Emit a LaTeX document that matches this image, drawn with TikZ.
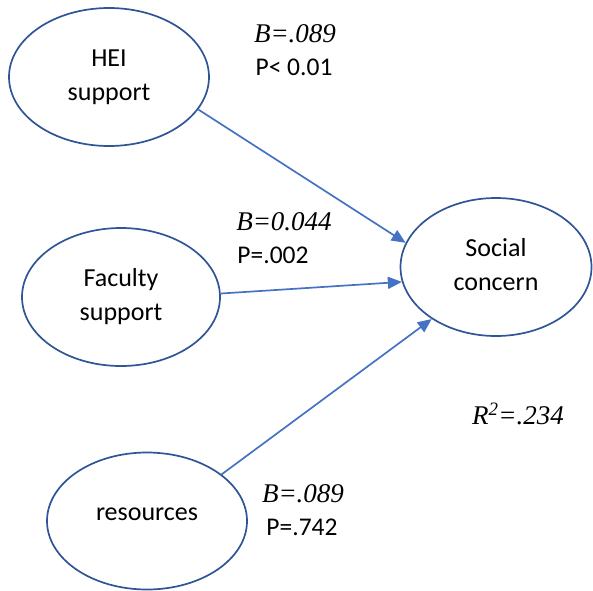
\documentclass[tikz,border=0pt]{standalone}
\usepackage{fontspec}
\setmainfont{Carlito}
\newfontfamily\timesit{Liberation Serif}
\usetikzlibrary{shapes.geometric,arrows.meta}
\definecolor{ellblue}{HTML}{2F5597}
\definecolor{arrblue}{HTML}{4472C4}
\begin{document}
\begin{tikzpicture}[x=1pt,y=-1pt,
  latent/.style={ellipse,draw=ellblue,line width=1.7pt,inner sep=0pt,
    align=center,font=\fontsize{26}{34}\selectfont},
  path/.style={draw=arrblue,line width=1.7pt,-{Triangle[length=14pt,width=12pt]}},
  coef/.style={font=\fontsize{27}{30}\selectfont\timesit\itshape,anchor=center},
  pval/.style={font=\fontsize{25.5}{30}\selectfont,anchor=center}]
\useasboundingbox (0,0) rectangle (593,590);
\node[latent,minimum width=200,minimum height=138] (hei) at (109,77) {HEI\\support};
\node[latent,minimum width=198,minimum height=138] (fac) at (121,297) {Faculty\\support};
\node[latent,minimum width=200,minimum height=137] (res) at (147,521) {\raisebox{14pt}{resources}};
\node[latent,minimum width=191,minimum height=138] (soc) at (496,267) {\raisebox{6pt}{\begin{tabular}{@{}c@{}}Social\\concern\end{tabular}}};
\draw[path] (hei.-20.6) -- (soc.165.2);
\draw[path] (fac.2.3) -- (soc.-171);
\draw[path] (res.32.8) -- (soc.-141.2);
\node[coef] (b1) at (295,34) {B=.089};
\node[pval] (p1) at (294,67) {P< 0.01};
\node[coef] (b2) at (284,222) {B=0.044};
\node[pval] (p2) at (273,255) {P=.002};
\node[coef] (b3) at (303,494) {B=.089};
\node[pval] (p3) at (302,527) {P=.742};
\node[coef] (r2) at (518,414) {R\textsuperscript{2}=.234};
\end{tikzpicture}
\end{document}
